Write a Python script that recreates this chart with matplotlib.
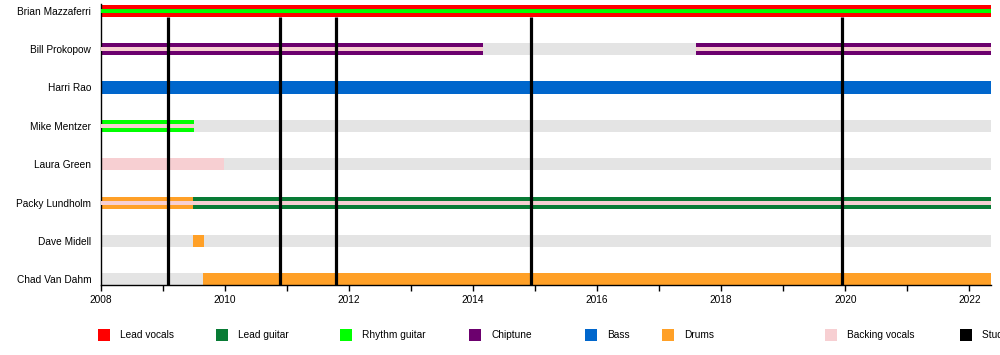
import matplotlib
matplotlib.use("Agg")
import matplotlib.pyplot as plt
from matplotlib.patches import Rectangle

plt.rcParams["font.family"] = ["Liberation Sans", "DejaVu Sans"]

# ---Data----
MEMBERS = ["Brian Mazzaferri", "Bill Prokopow", "Harri Rao", "Mike Mentzer",
           "Laura Green", "Packy Lundholm", "Dave Midell", "Chad Van Dahm"]

ROLES = ["Lead vocals", "Lead guitar", "Rhythm guitar", "Chiptune", "Bass",
         "Drums", "Backing vocals", "Studio albums"]
ROLE_COLORS = ["#ff0000", "#087b35", "#00ff00", "#6c006e", "#0066cc",
               "#ffa027", "#f7cfd2", "#000000"]
INACTIVE_COLOR = "#e4e4e4"

# one entry per bar segment: member, start, end, main role, inner stripe role
BAR_MEMBER = ["Brian Mazzaferri",
              "Bill Prokopow", "Bill Prokopow", "Bill Prokopow",
              "Harri Rao",
              "Mike Mentzer", "Mike Mentzer",
              "Laura Green", "Laura Green",
              "Packy Lundholm", "Packy Lundholm",
              "Dave Midell", "Dave Midell", "Dave Midell",
              "Chad Van Dahm", "Chad Van Dahm"]
BAR_START = [2008.0,
             2008.0, 2014.16, 2017.6,
             2008.0,
             2008.0, 2009.5,
             2008.0, 2009.99,
             2008.0, 2009.49,
             2008.0, 2009.49, 2009.66,
             2008.0, 2009.65]
BAR_END = [2022.35,
           2014.16, 2017.6, 2022.35,
           2022.35,
           2009.5, 2022.35,
           2009.99, 2022.35,
           2009.49, 2022.35,
           2009.49, 2009.66, 2022.35,
           2009.65, 2022.35]
BAR_ROLE = ["Lead vocals",
            "Chiptune", None, "Chiptune",
            "Bass",
            "Rhythm guitar", None,
            "Backing vocals", None,
            "Drums", "Lead guitar",
            None, "Drums", None,
            None, "Drums"]
BAR_INNER = ["Rhythm guitar",
             "Backing vocals", None, "Backing vocals",
             None,
             "Backing vocals", None,
             None, None,
             "Backing vocals", "Backing vocals",
             None, None, None,
             None, None]

ALBUMS = [2009.08, 2010.89, 2011.79, 2014.94, 2019.95]

X_START, X_END = 2008.0, 2022.35
# ---Data----


def main() -> None:
    color_of = dict(zip(ROLES, ROLE_COLORS))
    row_of = {m: len(MEMBERS) - 1 - i for i, m in enumerate(MEMBERS)}

    fig = plt.figure(figsize=(10, 3.55), dpi=100)
    ax = fig.add_axes([0.101, 0.1958, 0.89, 0.793])

    for m, s, e, role, inner in zip(BAR_MEMBER, BAR_START, BAR_END, BAR_ROLE, BAR_INNER):
        y = row_of[m]
        c = color_of[role] if role else INACTIVE_COLOR
        ax.barh(y, e - s, left=s, height=0.315, color=c, linewidth=0, zorder=2)
        if inner:
            ax.barh(y, e - s, left=s, height=0.105, color=color_of[inner], linewidth=0, zorder=3)

    ax.set_xlim(X_START, X_END)
    ax.set_ylim(-0.156, 7.174)
    ax.vlines(ALBUMS, -0.156, 6.84, color="black", linewidth=2.3, zorder=4)

    ax.set_yticks(range(len(MEMBERS)))
    ax.set_yticklabels(MEMBERS[::-1], fontsize=7.3)
    ax.tick_params(axis="y", length=0, pad=7)
    ax.set_xticks(range(2008, 2023, 2))
    ax.set_xticks(range(2009, 2023, 2), minor=True)
    ax.tick_params(axis="x", which="both", direction="out", length=4, width=1, labelsize=7.3, pad=3)
    for side in ["top", "right"]:
        ax.spines[side].set_visible(False)
    ax.spines["left"].set_linewidth(1)
    ax.spines["bottom"].set_linewidth(1)

    # legend row at the bottom (last entry runs off the edge, as in the original)
    lax = fig.add_axes([0, 0, 1, 0.12])
    lax.set_xlim(0, 1000)
    lax.set_ylim(0, 42.6)
    lax.axis("off")
    legend_x = [98, 216, 340, 469, 585, 662, 825, 960]
    for x, role, c in zip(legend_x, ROLES, ROLE_COLORS):
        lax.add_patch(Rectangle((x, 14.5), 12, 12, color=c, linewidth=0))
        lax.text(x + 22, 20.5, role, fontsize=7.3, va="center", ha="left", clip_on=False)

    fig.savefig("out.png", dpi=100)


if __name__ == "__main__":
    main()
